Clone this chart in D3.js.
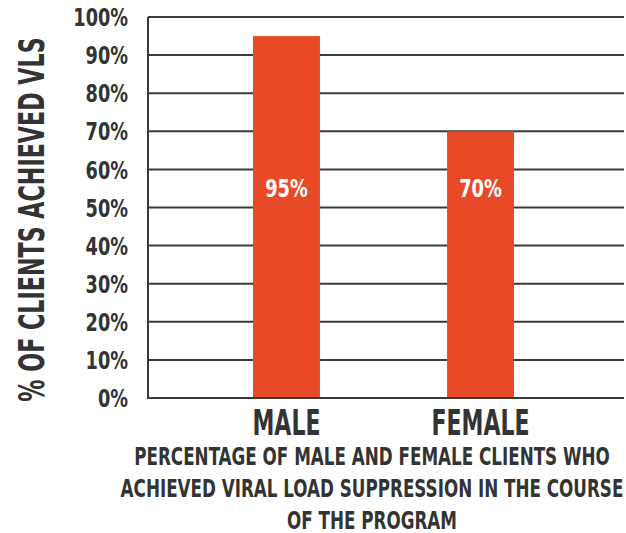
<!DOCTYPE html>
<html>
<head>
<meta charset="utf-8">
<script src="https://cdn.jsdelivr.net/npm/d3@7"></script>
<style>
  body { margin: 0; background: #fff; }
  svg { display: block; }
  text { font-family: "DejaVu Sans Condensed", "DejaVu Sans", sans-serif; font-weight: bold; fill: #333; }
</style>
</head>
<body>
<div id="chart"></div>
<script>
// data
var categories = ["MALE", "FEMALE"];
var values = [95, 70];
var yTicks = [0, 10, 20, 30, 40, 50, 60, 70, 80, 90, 100];
var yTitle = "% OF CLIENTS ACHIEVED VLS";
var caption = [
    "PERCENTAGE OF MALE AND FEMALE CLIENTS WHO",
    "ACHIEVED VIRAL LOAD SUPPRESSION IN THE COURSE",
    "OF THE PROGRAM"
];

var w = 626;
var h = 533;
var plotLeft = 148;
var plotRight = 624;
var plotTop = 17;
var plotBottom = 398;
var barColor = "#e84a27";
var lineColor = "#3a3a3a";

var svg = d3.select("#chart")
    .append("svg")
    .attr("width", w)
    .attr("height", h);

// the reference font is a tall condensed gothic; squeeze each text horizontally
function squeeze(sel, k) {
    sel.each(function() {
        var len = this.getComputedTextLength();
        d3.select(this)
            .attr("textLength", len * k)
            .attr("lengthAdjust", "spacingAndGlyphs");
    });
}

var yScale = d3.scaleLinear()
    .domain([0, 100])
    .range([plotBottom, plotTop]);

var xScale = d3.scaleBand()
    .domain(categories)
    .range([plotLeft, 619])
    .paddingInner(0.655)
    .paddingOuter(0.541);

/****** gridlines ******/
svg.selectAll("line.grid")
    .data(yTicks.filter(function(d) { return d > 0; }))
    .enter()
    .append("line")
    .attr("class", "grid")
    .attr("x1", plotLeft)
    .attr("x2", plotRight)
    .attr("y1", function(d) { return yScale(d); })
    .attr("y2", function(d) { return yScale(d); })
    .attr("stroke", lineColor)
    .attr("stroke-width", 2);

/****** bars ******/
svg.selectAll("rect")
    .data(values)
    .enter()
    .append("rect")
    .attr("x", function(d, i) { return xScale(categories[i]); })
    .attr("y", function(d) { return yScale(d); })
    .attr("width", xScale.bandwidth())
    .attr("height", function(d) { return plotBottom - yScale(d); })
    .attr("fill", barColor);

// axis lines (left + baseline)
svg.append("path")
    .attr("d", "M" + plotLeft + "," + plotTop + "V" + plotBottom + "H" + plotRight)
    .attr("fill", "none")
    .attr("stroke", lineColor)
    .attr("stroke-width", 2);

/****** y axis ******/
var yAxis = d3.axisLeft(yScale)
    .tickValues(yTicks)
    .tickSize(0)
    .tickPadding(0)
    .tickFormat(function(d) { return d + "%"; });
var yG = svg.append("g")
    .attr("transform", "translate(" + (plotLeft - 20) + ",0)")
    .call(yAxis);
yG.select(".domain").remove();
yG.selectAll("text")
    .attr("font-family", null)
    .attr("font-size", null)
    .style("font-size", "24px")
    .attr("dy", "0.36em")
    .call(squeeze, 0.82);

/****** x axis ******/
var xAxis = d3.axisBottom(xScale).tickSize(0).tickPadding(0);
var xG = svg.append("g")
    .attr("transform", "translate(0," + plotBottom + ")")
    .call(xAxis);
xG.select(".domain").remove();
xG.selectAll("text")
    .attr("font-family", null)
    .attr("font-size", null)
    .style("font-size", "36px")
    .attr("dy", null)
    .attr("y", 37)
    .call(squeeze, 0.68);

/****** bar labels ******/
svg.selectAll("text.val")
    .data(values)
    .enter()
    .append("text")
    .attr("class", "val")
    .attr("x", function(d, i) { return xScale(categories[i]) + xScale.bandwidth() / 2; })
    .attr("y", yScale(55))
    .attr("dy", "0.36em")
    .attr("text-anchor", "middle")
    .style("fill", "#fff")
    .style("font-size", "25px")
    .text(function(d) { return d + "%"; })
    .call(squeeze, 0.79);

/****** y title ******/
svg.append("text")
    .attr("transform", "translate(44," + ((plotTop + plotBottom) / 2 + 12) + ") rotate(-90)")
    .attr("text-anchor", "middle")
    .style("font-size", "35px")
    .text(yTitle)
    .call(squeeze, 0.705);

/****** caption ******/
svg.selectAll("text.cap")
    .data(caption)
    .enter()
    .append("text")
    .attr("class", "cap")
    .attr("x", 372)
    .attr("y", function(d, i) { return 465 + i * 32; })
    .attr("text-anchor", "middle")
    .style("font-size", "25px")
    .text(function(d) { return d; })
    .call(squeeze, 0.745);
</script>
</body>
</html>
